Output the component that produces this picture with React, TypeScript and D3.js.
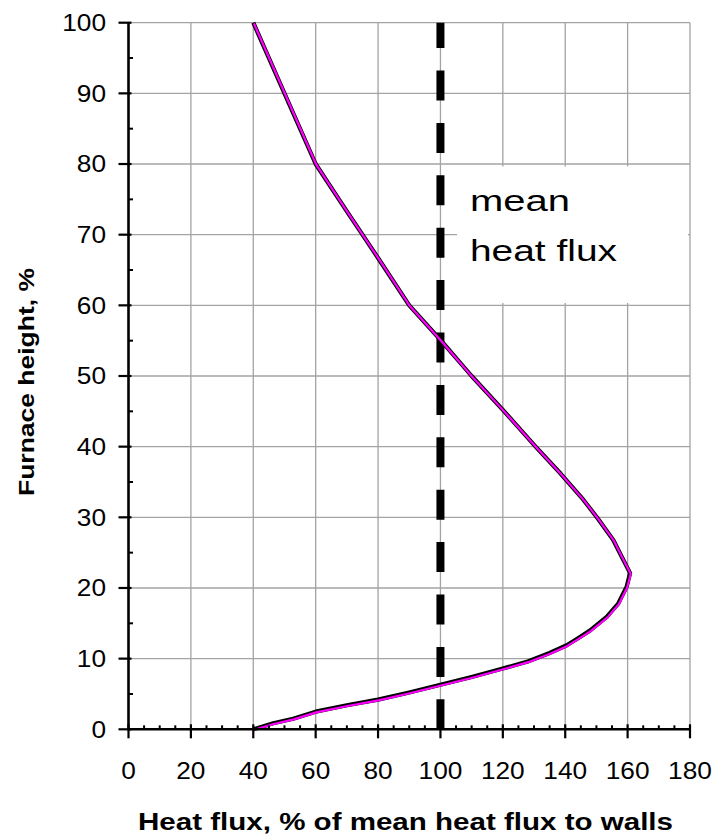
import React from "react";
import * as d3 from "d3";

// Heat flux profile (x: % of mean heat flux, y: furnace height %)
const heatFlux = [40, 46.4, 52.8, 60, 70, 80, 90, 100, 110, 120, 128, 135, 140.5, 144.5, 148, 153.3, 157, 159.7, 160.8, 158.6, 155.4, 150.5, 145.8, 138.5, 130.5, 120, 110, 100, 90, 80, 75, 70, 60, 50, 40];
const furnaceHeight = [0, 0.85, 1.5, 2.5, 3.4, 4.2, 5.2, 6.3, 7.4, 8.6, 9.6, 10.8, 11.9, 13.0, 14.0, 15.9, 17.8, 20.2, 22.1, 24.0, 26.8, 29.8, 32.5, 36.2, 40.0, 45.2, 50.0, 55.1, 60, 66.7, 70, 73.3, 80, 90, 100];

const xTicks = [0, 20, 40, 60, 80, 100, 120, 140, 160, 180];
const yTicks = [0, 10, 20, 30, 40, 50, 60, 70, 80, 90, 100];
const meanValue = 100;
const xTitle = "Heat flux, % of mean heat flux to walls";
const yTitle = "Furnace height, %";
const noteLines = ["mean", "heat flux"];

export default function App() {
  const x = d3.scaleLinear().domain([0, 180]).range([128.5, 690]);
  const y = d3.scaleLinear().domain([0, 100]).range([729.3, 22.7]);
  const pts: [number, number][] = heatFlux.map((v, i) => [v, furnaceHeight[i]]);
  const line = d3
    .line<[number, number]>()
    .x((d) => x(d[0]))
    .y((d) => y(d[1]))
    .curve(d3.curveLinear);
  const path = line(pts) || "";

  const xMinor = d3.range(0, 181, 5).filter((v) => v % 20 !== 0);
  const yMinor = d3.range(5, 100, 10);
  const digitW = 14.6;
  const font = "'Liberation Sans', Arial, sans-serif";

  return (
    <svg width={716} height={834} style={{ position: "absolute", left: 0, top: 0, background: "#fff" }}>
      <rect x={0} y={0} width={716} height={834} fill="#fff" />
      {/* grid */}
      {xTicks.filter((v) => v > 0).map((v) => (
        <line key={"gx" + v} x1={x(v)} x2={x(v)} y1={y(0)} y2={y(100)} stroke="#a3a3a3" strokeWidth={1.3} />
      ))}
      {yTicks.filter((v) => v > 0).map((v) => (
        <line key={"gy" + v} x1={x(0)} x2={x(180)} y1={y(v)} y2={y(v)} stroke="#a3a3a3" strokeWidth={1.3} />
      ))}
      {/* note box */}
      <rect x={457} y={166.5} width={231} height={136.5} fill="#fff" />
      <text x={470} y={211} fontFamily={font} fontSize={30} textLength={100} lengthAdjust="spacingAndGlyphs" fill="#000">
        {noteLines[0]}
      </text>
      <text x={470} y={260.5} fontFamily={font} fontSize={30} textLength={147} lengthAdjust="spacingAndGlyphs" fill="#000">
        {noteLines[1]}
      </text>
      {/* mean dashed line */}
      <line x1={x(meanValue)} x2={x(meanValue)} y1={y(0)} y2={y(100)} stroke="#000" strokeWidth={8} strokeDasharray="30 22.4" />
      {/* curves */}
      <path d={path} fill="none" stroke="#000" strokeWidth={4.2} strokeLinejoin="round" />
      <path d={path} fill="none" stroke="#ff00ff" strokeWidth={2.2} strokeLinejoin="round" transform="translate(0.6,0.7)" />
      {/* axes */}
      <line x1={x(0)} x2={x(0)} y1={y(0) + 1} y2={y(100)} stroke="#000" strokeWidth={2.6} />
      <line x1={x(0) - 1} x2={x(180) + 1} y1={y(0)} y2={y(0)} stroke="#000" strokeWidth={2.6} />
      {yTicks.map((v) => (
        <line key={"ty" + v} x1={x(0) - 10} x2={x(0) + 3} y1={y(v)} y2={y(v)} stroke="#000" strokeWidth={2.2} />
      ))}
      {yMinor.map((v) => (
        <line key={"tym" + v} x1={x(0)} x2={x(0) + 4.5} y1={y(v)} y2={y(v)} stroke="#000" strokeWidth={2} />
      ))}
      {xTicks.map((v) => (
        <line key={"tx" + v} x1={x(v)} x2={x(v)} y1={y(0) - 5} y2={y(0) + 9} stroke="#000" strokeWidth={2.2} />
      ))}
      {xMinor.map((v) => (
        <line key={"txm" + v} x1={x(v)} x2={x(v)} y1={y(0) - 4} y2={y(0)} stroke="#000" strokeWidth={2} />
      ))}
      {/* tick labels */}
      {yTicks.map((v) => {
        const s = String(v);
        const w = s.length * digitW;
        return (
          <text key={"ly" + v} x={106 - w} y={y(v) + 8.4} fontFamily={font} fontSize={23} textLength={w} lengthAdjust="spacingAndGlyphs" fill="#000">
            {s}
          </text>
        );
      })}
      {xTicks.map((v) => {
        const s = String(v);
        const w = s.length * digitW;
        return (
          <text key={"lx" + v} x={x(v) - w / 2} y={778.5} fontFamily={font} fontSize={23} textLength={w} lengthAdjust="spacingAndGlyphs" fill="#000">
            {s}
          </text>
        );
      })}
      {/* titles */}
      <text x={138} y={829.5} fontFamily={font} fontSize={23} fontWeight="bold" textLength={535} lengthAdjust="spacingAndGlyphs" fill="#000">
        {xTitle}
      </text>
      <text
        transform={`translate(34,${382 + 114}) rotate(-90)`}
        x={0}
        y={0}
        fontFamily={font}
        fontSize={22}
        fontWeight="bold"
        textLength={228}
        lengthAdjust="spacingAndGlyphs"
        fill="#000"
      >
        {yTitle}
      </text>
    </svg>
  );
}
